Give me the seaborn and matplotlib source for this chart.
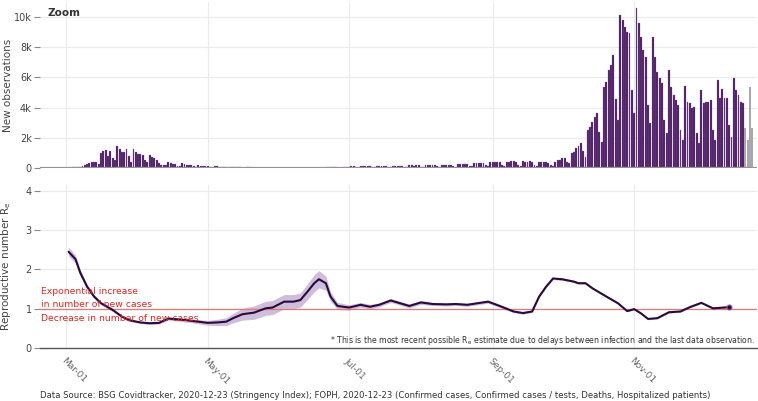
import pandas as pd
import matplotlib
matplotlib.use("Agg")
import matplotlib.pyplot as plt
import matplotlib.dates as mdates
from matplotlib.ticker import FuncFormatter
import seaborn as sns

# daily new confirmed cases, one value per day from Mon 2020-02-24
case_start = "2020-02-24"
new_cases = [
    0, 0, 1, 1, 3, 5, 10,
    20, 30, 40, 40, 45, 60, 100,
    180, 290, 330, 380, 400, 380, 290,
    1000, 1100, 1170, 820, 1100, 660, 550,
    1440, 1280, 1040, 1060, 1260, 770, 380,
    1260, 1040, 950, 900, 880, 550, 400,
    880, 720, 650, 560, 330, 220, 180,
    200, 380, 300, 280, 260, 150, 120,
    320, 250, 230, 200, 180, 100, 80,
    180, 150, 130, 120, 100, 60, 40,
    120, 100, 90, 70, 60, 40, 20,
    80, 60, 50, 40, 40, 20, 15,
    50, 40, 35, 30, 25, 10, 8,
    30, 25, 20, 20, 15, 8, 5,
    20, 25, 20, 15, 18, 10, 5,
    20, 18, 20, 22, 25, 12, 8,
    25, 30, 28, 30, 30, 15, 12,
    40, 45, 50, 55, 60, 30, 25,
    70, 80, 90, 100, 110, 60, 50,
    110, 120, 100, 110, 120, 60, 50,
    130, 140, 120, 130, 140, 70, 60,
    150, 160, 150, 140, 150, 80, 70,
    170, 180, 160, 170, 180, 90, 80,
    200, 190, 180, 200, 190, 100, 80,
    230, 220, 210, 220, 200, 110, 90,
    280, 270, 260, 280, 270, 130, 110,
    330, 320, 300, 340, 350, 170, 140,
    400, 370, 400, 410, 380, 200, 150,
    420, 430, 450, 440, 400, 200, 150,
    480, 430, 420, 450, 420, 220, 160,
    380, 400, 390, 380, 350, 180, 130,
    420, 500, 560, 640, 660, 380, 320,
    1000, 1050, 1300, 1450, 1650, 1100, 700,
    2520, 2720, 3050, 3380, 3640, 2400, 1720,
    5370, 5700, 6500, 6800, 7480, 4600, 3180,
    10130, 9800, 9370, 9030, 8920, 5170, 3620,
    10570, 9580, 8700, 7820, 7380, 4170, 2960,
    8700, 7380, 6390, 5940, 5600, 3180, 2300,
    6490, 5390, 4840, 4500, 4200, 2520, 1860,
    5430, 4400, 4280, 3950, 4060, 2300, 1640,
    5170, 4280, 4400, 4400, 4500, 2520, 1860,
    5830, 4620, 5210, 4620, 4620, 2860, 2080,
    5940, 5170, 4840, 4400, 4280, 2650, 1850,
    5400, 2650,
]
n_provisional = 4  # last days still incomplete (grey)

re_dates = [
    "2020-03-02", "2020-03-05", "2020-03-07", "2020-03-10", "2020-03-13",
    "2020-03-16", "2020-03-21", "2020-03-25", "2020-03-28", "2020-04-02",
    "2020-04-06", "2020-04-10", "2020-04-14", "2020-04-16", "2020-04-23",
    "2020-05-01", "2020-05-05", "2020-05-09", "2020-05-12", "2020-05-16",
    "2020-05-21", "2020-05-26", "2020-05-29", "2020-06-03", "2020-06-07",
    "2020-06-10", "2020-06-13", "2020-06-16", "2020-06-18", "2020-06-21",
    "2020-06-23", "2020-06-26", "2020-07-01", "2020-07-06", "2020-07-10",
    "2020-07-14", "2020-07-19", "2020-07-23", "2020-07-27", "2020-08-01",
    "2020-08-06", "2020-08-12", "2020-08-16", "2020-08-21", "2020-08-30",
    "2020-09-04", "2020-09-10", "2020-09-14", "2020-09-18", "2020-09-21",
    "2020-09-24", "2020-09-27", "2020-10-01", "2020-10-06", "2020-10-08",
    "2020-10-11", "2020-10-14", "2020-10-20", "2020-10-25", "2020-10-29",
    "2020-11-01", "2020-11-04", "2020-11-07", "2020-11-11", "2020-11-16",
    "2020-11-21", "2020-11-25", "2020-11-30", "2020-12-05", "2020-12-12",
]
re_mean = [
    2.45, 2.26, 1.92, 1.56, 1.31,
    1.14, 0.97, 0.80, 0.71, 0.65,
    0.63, 0.64, 0.75, 0.74, 0.70,
    0.64, 0.65, 0.67, 0.76, 0.86,
    0.90, 1.01, 1.03, 1.18, 1.18,
    1.22, 1.43, 1.65, 1.75, 1.65,
    1.31, 1.07, 1.03, 1.10, 1.05,
    1.10, 1.21, 1.14, 1.07, 1.16,
    1.12, 1.11, 1.12, 1.10, 1.18,
    1.07, 0.93, 0.89, 0.93, 1.31,
    1.56, 1.77, 1.75, 1.69, 1.65,
    1.65, 1.52, 1.31, 1.14, 0.94,
    0.99, 0.88, 0.74, 0.76, 0.91,
    0.93, 1.04, 1.15, 1.01, 1.04,
]
re_halfwidth = [
    0.12, 0.10, 0.08, 0.06, 0.05,
    0.04, 0.04, 0.03, 0.03, 0.03,
    0.03, 0.03, 0.04, 0.04, 0.05,
    0.06, 0.08, 0.10, 0.12, 0.15,
    0.17, 0.18, 0.18, 0.18, 0.18,
    0.18, 0.20, 0.22, 0.22, 0.18,
    0.12, 0.09, 0.07, 0.06, 0.06,
    0.05, 0.05, 0.05, 0.05, 0.05,
    0.04, 0.04, 0.04, 0.04, 0.04,
    0.04, 0.03, 0.03, 0.03, 0.03,
    0.03, 0.03, 0.03, 0.025, 0.025,
    0.025, 0.02, 0.02, 0.02, 0.02,
    0.02, 0.02, 0.02, 0.02, 0.02,
    0.02, 0.02, 0.02, 0.02, 0.03,
]

tick_dates = ["2020-03-01", "2020-05-01", "2020-07-01", "2020-09-01", "2020-11-01"]
tick_labels = ["Mar-01", "May-01", "Jul-01", "Sep-01", "Nov-01"]

cases = pd.DataFrame({
    "date": pd.date_range(case_start, periods=len(new_cases), freq="D"),
    "cases": new_cases,
})
re_df = pd.DataFrame({"date": pd.to_datetime(re_dates), "re": re_mean, "hw": re_halfwidth})

sns.set_theme(style="white")
plt.rcParams["font.family"] = ["DejaVu Sans"]

W, H = 758, 401
fig = plt.figure(figsize=(W / 100, H / 100), dpi=100)
ax1 = fig.add_axes([40 / W, 1 - 168 / H, 717 / W, 166 / H])
ax2 = fig.add_axes([40 / W, 1 - 348 / H, 717 / W, 163 / H])

xlim = (mdates.date2num(pd.Timestamp("2020-02-18 16:00")),
        mdates.date2num(pd.Timestamp("2020-12-24 00:00")))
ticks = pd.to_datetime(tick_dates)
grid_c = "#ebebeb"
txt_c = "#444444"

# --- top: new observations ---
final = cases.iloc[:-n_provisional]
prov = cases.iloc[-n_provisional:]
ax1.bar(final["date"], final["cases"], width=0.82, color="#4a1b60",
        edgecolor="#8e6aa3", linewidth=0.2)
ax1.bar(prov["date"], prov["cases"], width=0.82, color="#aaa6ad", linewidth=0)
ax1.axhline(0, color="#9a8fa0", lw=1.6, zorder=3)
ax1.set_xlim(xlim)
ax1.set_ylim(0, 11000)
ax1.set_yticks([0, 2000, 4000, 6000, 8000, 10000])
ax1.yaxis.set_major_formatter(FuncFormatter(lambda v, p: "0" if v == 0 else f"{int(v / 1000)}k"))
ax1.set_xticks(ticks)
ax1.set_xticklabels([])
ax1.grid(True, color=grid_c, lw=0.8)
ax1.set_axisbelow(True)
for s in ax1.spines.values():
    s.set_visible(False)
ax1.tick_params(axis="x", length=0)
ax1.tick_params(axis="y", length=4, width=0.8, color="#888888", labelsize=7, labelcolor=txt_c, pad=2, left=True)
ax1.set_ylabel("New observations", fontsize=7.5, color=txt_c)
ax1.yaxis.set_label_coords(-0.038, 0.5)
fig.text(47 / W, 1 - 13 / H, "Zoom", fontsize=7.5, fontweight="bold", color="#333333", va="center")

# --- bottom: reproductive number ---
ax2.fill_between(re_df["date"], re_df["re"] - re_df["hw"], re_df["re"] + re_df["hw"],
                 color="#bea8cf", alpha=0.75, linewidth=0)
sns.lineplot(data=re_df, x="date", y="re", ax=ax2, color="#2a0a3c", lw=1.5)
ax2.plot(re_df["date"].iloc[-1], re_df["re"].iloc[-1], "o", ms=3.5, color="#2a0a3c",
         markeredgecolor="#7d5c92", markeredgewidth=0.8)
ax2.axhline(1, color="#e27a74", lw=0.9, zorder=1)
ax2.set_xlim(xlim)
ax2.set_ylim(0, 4.15)
ax2.set_yticks([0, 1, 2, 3, 4])
ax2.set_xticks(ticks)
ax2.set_xticklabels(tick_labels, rotation=-45, ha="left", va="top", rotation_mode="anchor")
ax2.grid(True, color=grid_c, lw=0.8)
ax2.set_axisbelow(True)
for k in ["top", "left", "right"]:
    ax2.spines[k].set_visible(False)
ax2.spines["bottom"].set_color("#555555")
ax2.spines["bottom"].set_linewidth(1.0)
ax2.tick_params(axis="x", length=0, labelsize=6.5, labelcolor="#666666", pad=6)
ax2.tick_params(axis="y", length=4, width=0.8, color="#888888", labelsize=7, labelcolor=txt_c, pad=2, left=True)
ax2.set_xlabel("")
ax2.set_ylabel("Reproductive number R$_\\mathregular{e}$", fontsize=7.5, color=txt_c)
ax2.yaxis.set_label_coords(-0.038, 0.5)

tr = ax2.get_yaxis_transform()
red = "#e3251f"
ax2.text(0.002, 1.43, "Exponential increase", transform=tr, color=red, fontsize=6.7, va="center")
ax2.text(0.002, 1.12, "in number of new cases", transform=tr, color=red, fontsize=6.7, va="center")
ax2.text(0.002, 0.76, "Decrease in number of new cases", transform=tr, color=red, fontsize=6.7, va="center")
ax2.text(0.997, 0.18,
         "* This is the most recent possible R$_\\mathregular{e}$ estimate due to delays between infection and the last data observation.",
         transform=tr, ha="right", va="center", fontsize=5.6, color="#333333")

fig.text(40 / W, 1 - 395 / H,
         "Data Source: BSG Covidtracker, 2020-12-23 (Stringency Index); FOPH, 2020-12-23 (Confirmed cases, Confirmed cases / tests, Deaths, Hospitalized patients)",
         fontsize=6.1, color="#333333", va="center")

fig.savefig("out.png", dpi=100)
